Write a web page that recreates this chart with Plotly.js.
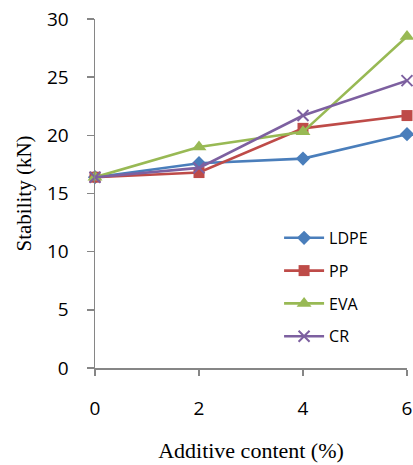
<!DOCTYPE html>
<html><head><meta charset="utf-8">
<script src="https://cdn.plot.ly/plotly-3.0.1.min.js"></script>
<style>body{margin:0;padding:0;background:#fff}#c{width:413px;height:465px}</style>
</head><body><div id="c"></div>
<script>
const xVals = [0, 2, 4, 6];
const ldpe = [16.4, 17.6, 18.0, 20.1];
const pp = [16.4, 16.8, 20.6, 21.7];
const eva = [16.4, 19.0, 20.3, 28.5];
const cr = [16.4, 17.2, 21.7, 24.7];
const seriesNames = ['LDPE', 'PP', 'EVA', 'CR'];
const xTicks = [0, 2, 4, 6];
const yTicks = [0, 5, 10, 15, 20, 25, 30];

const colors = ['#4A7EBB', '#BE4B48', '#98B954', '#7D60A0'];
const symbols = ['diamond', 'square', 'triangle-up', 'x-thin'];
const sizes = [11, 11, 13, 11];
const data = [ldpe, pp, eva, cr].map((ys, i) => ({
  x: xVals, y: ys, name: seriesNames[i], type: 'scatter', mode: 'lines+markers',
  legendgroup: 'g' + i,
  line: {color: colors[i], width: 2.6},
  marker: {symbol: symbols[i], size: sizes[i], color: colors[i],
           line: {color: colors[i], width: i === 3 ? 2 : 0}},
  cliponaxis: false
}));

const layout = {
  width: 413, height: 465,
  margin: {l: 95, r: 6, t: 19, b: 97},
  paper_bgcolor: '#fff', plot_bgcolor: '#fff',
  showlegend: true,
  legend: {x: 0.59, y: 0.4215, xanchor: 'left', yanchor: 'top', itemwidth: 40,
           font: {family: 'Open Sans, sans-serif', size: 16, color: '#000'},
           tracegroupgap: 9, bgcolor: 'rgba(0,0,0,0)'},
  xaxis: {range: [0, 6], tickvals: xTicks, ticktext: xTicks.map(String),
          showgrid: false, zeroline: false, showline: true, linecolor: '#868686', linewidth: 1.5,
          ticks: 'outside', ticklen: 6, tickcolor: '#868686', tickwidth: 1.5,
          ticklabelstandoff: 17,
          tickfont: {family: 'Open Sans, sans-serif', size: 19, color: '#000'},
          title: {text: 'Additive content (%)', standoff: 22,
                  font: {family: 'Liberation Serif, Times New Roman, serif', size: 22, color: '#000'}}},
  yaxis: {range: [0, 30], tickvals: yTicks, ticktext: yTicks.map(String),
          showgrid: false, zeroline: false, showline: true, linecolor: '#868686', linewidth: 1.5,
          ticks: 'outside', ticklen: 7, tickcolor: '#868686', tickwidth: 1.5,
          ticklabelstandoff: 14,
          tickfont: {family: 'Open Sans, sans-serif', size: 19, color: '#000'},
          title: {text: 'Stability (kN)', standoff: 9,
                  font: {family: 'Liberation Serif, Times New Roman, serif', size: 21, color: '#000'}}}
};
Plotly.newPlot('c', data, layout, {displayModeBar: false, staticPlot: true});
</script></body></html>
